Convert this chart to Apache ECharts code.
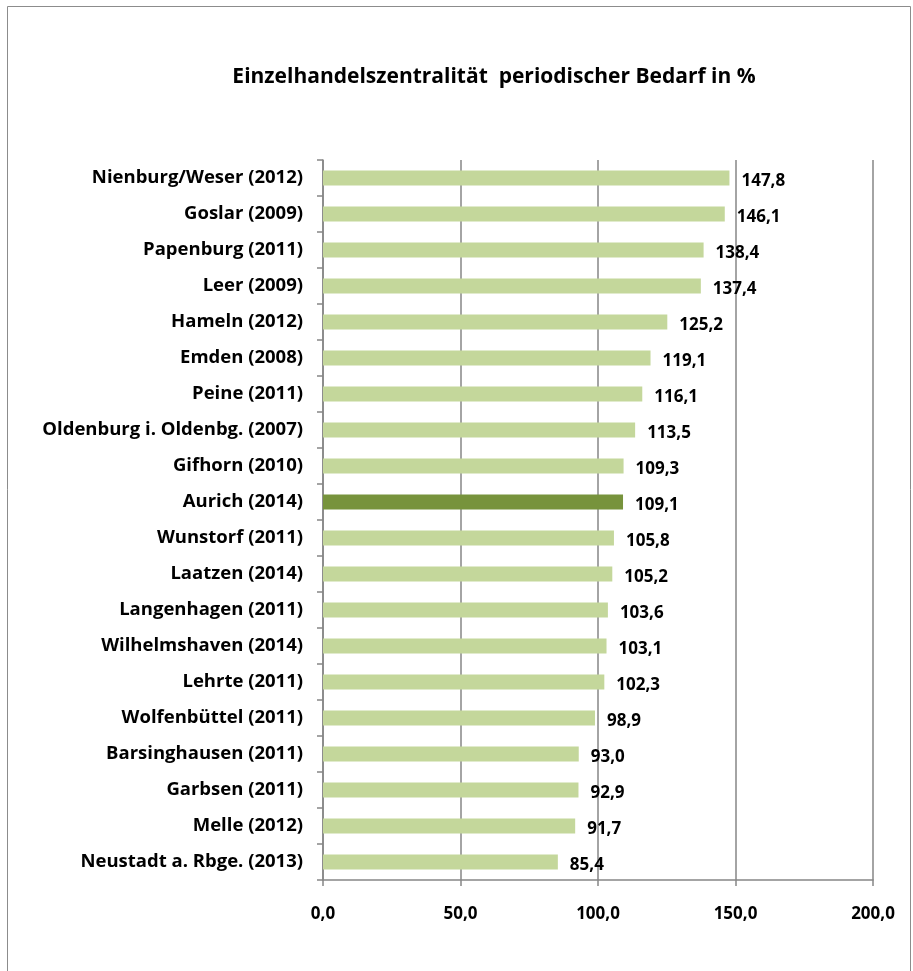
<!DOCTYPE html>
<html><head><meta charset="utf-8">
<script src="https://cdn.jsdelivr.net/npm/echarts@6/dist/echarts.min.js"></script>
<style>html,body{margin:0;padding:0;background:#fff}#c{width:913px;height:971px}</style>
</head><body><div id="c"></div>
<script>
const categories = ["Nienburg/Weser (2012)","Goslar (2009)","Papenburg (2011)","Leer (2009)","Hameln (2012)","Emden (2008)","Peine (2011)","Oldenburg i. Oldenbg. (2007)","Gifhorn (2010)","Aurich (2014)","Wunstorf (2011)","Laatzen (2014)","Langenhagen (2011)","Wilhelmshaven (2014)","Lehrte (2011)","Wolfenbüttel (2011)","Barsinghausen (2011)","Garbsen (2011)","Melle (2012)","Neustadt a. Rbge. (2013)"];
const values = [147.8,146.1,138.4,137.4,125.2,119.1,116.1,113.5,109.3,109.1,105.8,105.2,103.6,103.1,102.3,98.9,93.0,92.9,91.7,85.4];
const highlight = "Aurich (2014)";
const title = "Einzelhandelszentralität  periodischer Bedarf in %";
const FONT = "'Open Sans', sans-serif";
const fmt = v => v.toFixed(1).replace('.', ',');
const chart = echarts.init(document.getElementById('c'));
chart.setOption({
  animation:false,
  backgroundColor:'#fff',
  title:{text:title,left:489,textAlign:'center',top:62,textStyle:{fontFamily:FONT,fontSize:21,fontWeight:'bold',color:'#000'}},
  graphic:[{type:'rect',shape:{x:7.5,y:6.5,width:903,height:975},style:{fill:null,stroke:'#8c8c8c',lineWidth:1}}],
  grid:{left:323,right:40,top:160,bottom:91,containLabel:false},
  xAxis:{type:'value',min:0,max:200,interval:50,
    axisLine:{show:true,lineStyle:{color:'#868686',width:1.5}},
    axisTick:{show:true,length:6,lineStyle:{color:'#868686',width:1.5}},
    splitLine:{show:true,lineStyle:{color:'#868686',width:1.5}},
    axisLabel:{margin:26,formatter:v=>fmt(v),fontFamily:FONT,fontSize:17,fontWeight:'bold',color:'#000'}},
  yAxis:{type:'category',data:categories,inverse:true,
    axisLine:{show:true,lineStyle:{color:'#868686',width:1.5}},
    axisTick:{show:true,length:6,lineStyle:{color:'#868686',width:1.5}},
    axisLabel:{margin:20,fontFamily:FONT,fontSize:18.5,fontWeight:'bold',color:'#000'}},
  series:[{type:'bar',barWidth:'41%',
    data:values.map((v,i)=>({value:v,itemStyle:{color:categories[i]===highlight?'#77933C':'#C4D79B'}})),
    label:{show:true,position:'right',distance:12,offset:[0,3],formatter:p=>fmt(p.value),fontFamily:FONT,fontSize:17,fontWeight:'bold',color:'#000'}}]
});
</script></body></html>
